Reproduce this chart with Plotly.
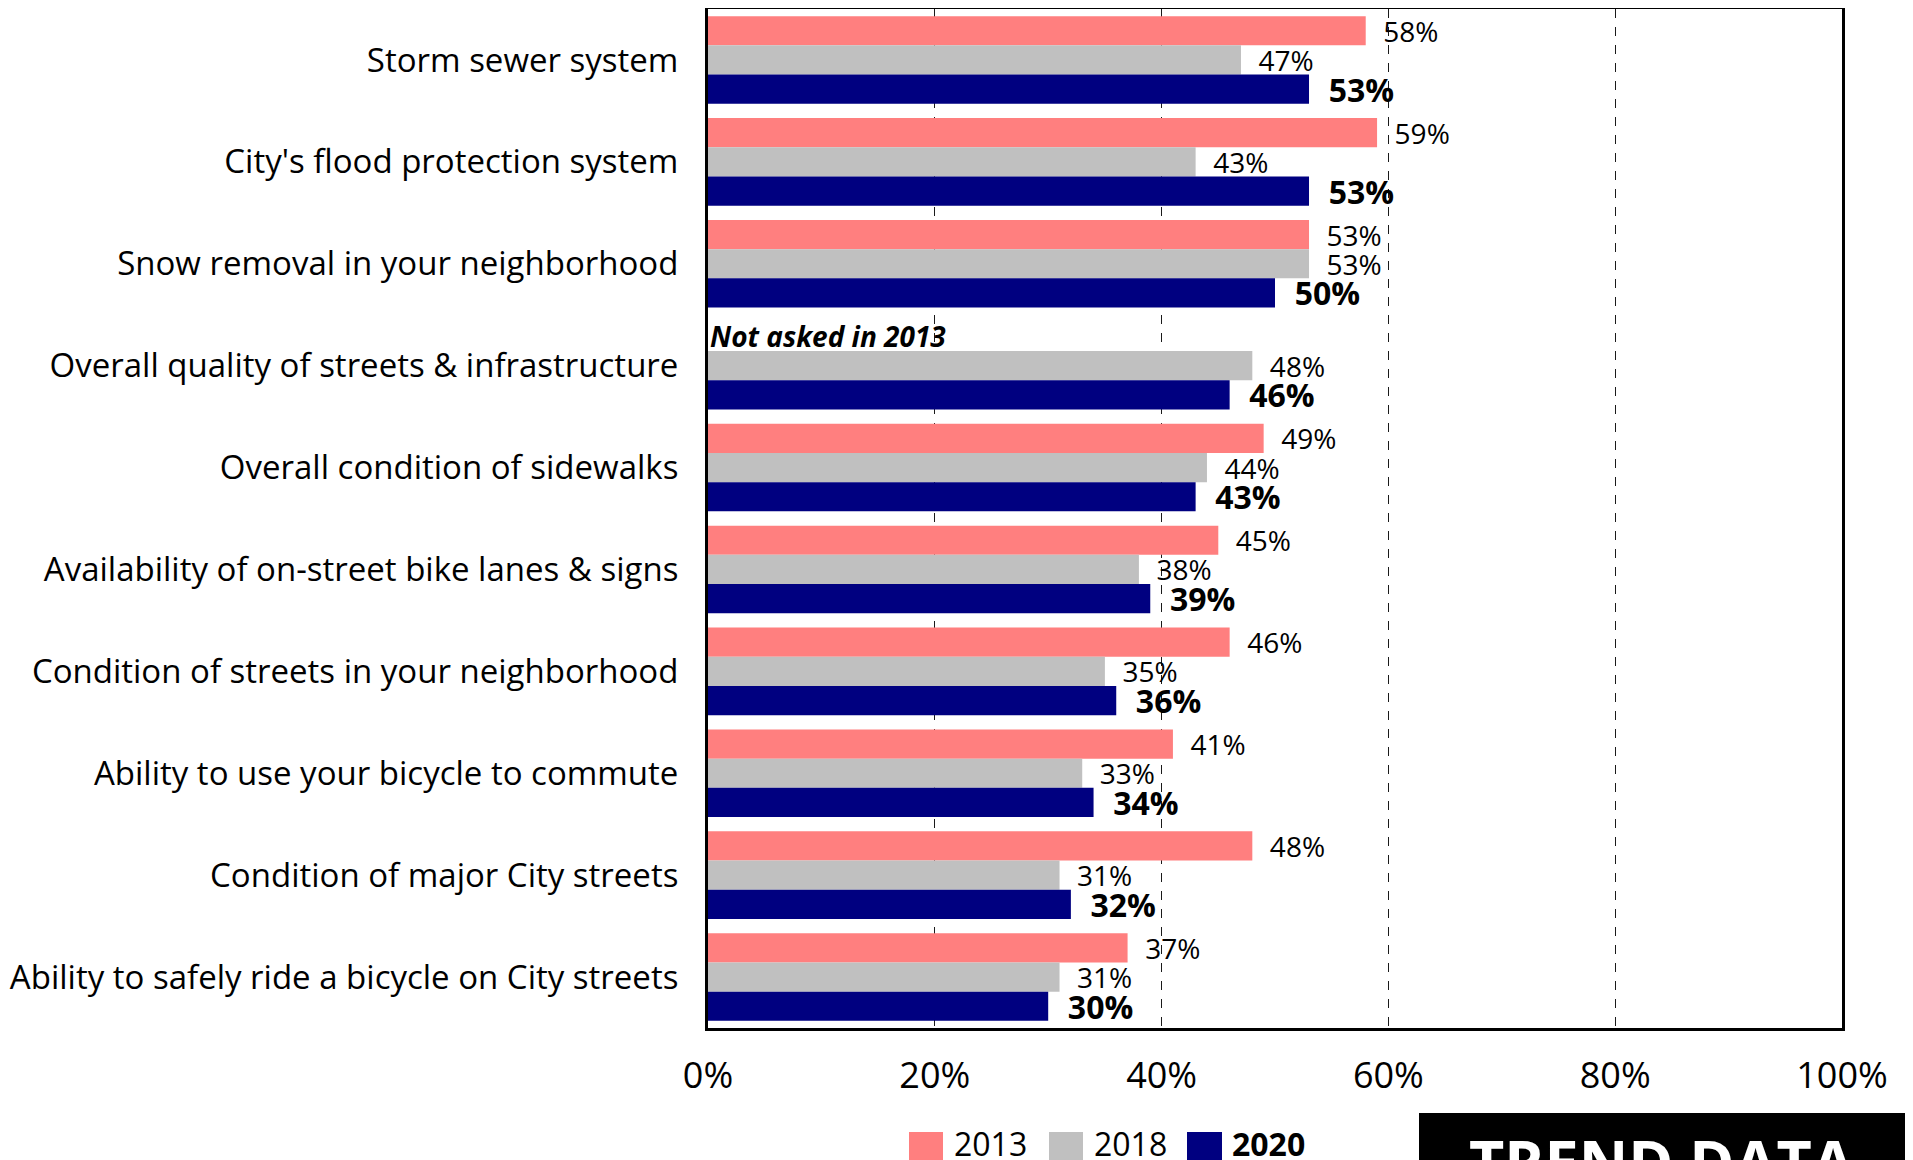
import plotly.graph_objects as go

# Dades del gràfic (de dalt a baix)
categories = [
    "Storm sewer system",
    "City's flood protection system",
    "Snow removal in your neighborhood",
    "Overall quality of streets & infrastructure",
    "Overall condition of sidewalks",
    "Availability of on-street bike lanes & signs",
    "Condition of streets in your neighborhood",
    "Ability to use your bicycle to commute",
    "Condition of major City streets",
    "Ability to safely ride a bicycle on City streets",
]
vals_2013 = [58, 59, 53, None, 49, 45, 46, 41, 48, 37]
vals_2018 = [47, 43, 53, 48, 44, 38, 35, 33, 31, 31]
vals_2020 = [53, 53, 50, 46, 43, 39, 36, 34, 32, 30]
years = ["2013", "2018", "2020"]
colors = ["#FF7F7F", "#C0C0C0", "#000080"]
x_ticks = [0, 20, 40, 60, 80, 100]

FONT = "Open Sans"

fig = go.Figure()

series = [vals_2013, vals_2018, vals_2020]
for i, (yr, vals, col) in enumerate(zip(years, series, colors)):
    bold = (yr == "2020")
    labels = []
    for v in vals:
        if v is None:
            labels.append("")
        elif bold:
            labels.append("&nbsp;&nbsp;<b>%d%%</b>" % v)
        else:
            labels.append("&nbsp;&nbsp;%d%%" % v)
    fig.add_trace(go.Bar(
        y=categories,
        x=vals,
        orientation="h",
        name=yr,
        marker=dict(color=col, line=dict(width=0)),
        text=labels,
        textposition="outside",
        constraintext="none",
        cliponaxis=False,
        textfont=dict(family=FONT, size=32 if bold else 28, color="black"),
        hoverinfo="skip",
    ))

# Geometria (la pàgina té 8px de marge al body)
OFF = 8
W, H = 1905, 1152
L, R, T, B = 700, 71, 1, 132
pw = W - L - R
ph = H - T - B


def px(x):
    return (x - OFF - L) / pw


def py(y):
    return (H - B - (y - OFF)) / ph


shapes = []
annotations = []

# Nota "Not asked"
annotations.append(dict(
    x=0, y=categories[3], xref="x", yref="y", xanchor="left", yanchor="middle",
    xshift=0, yshift=30, showarrow=False,
    text="<b><i>Not asked in 2013</i></b>",
    font=dict(family=FONT, size=28, color="black"),
))

# Llegenda manual
leg_sq = [(909, 943), (1049, 1083), (1187, 1222)]
leg_tx = [952, 1092, 1230]
for (a, b), tx, yr, col in zip(leg_sq, leg_tx, years, colors):
    shapes.append(dict(type="rect", xref="paper", yref="paper",
                       x0=px(a), x1=px(b), y0=py(1132), y1=py(1170),
                       fillcolor=col, line=dict(width=0), layer="above"))
    annotations.append(dict(
        x=px(tx), y=py(1120), xref="paper", yref="paper",
        xanchor="left", yanchor="top", showarrow=False,
        text=("<b>%s</b>" % yr) if yr == "2020" else yr,
        font=dict(family=FONT, size=32, color="black"),
    ))

# Caixa "TREND DATA"
shapes.append(dict(type="rect", xref="paper", yref="paper",
                   x0=px(1419), x1=px(1930), y0=py(1113), y1=py(1180),
                   fillcolor="black", line=dict(width=0), layer="above"))
annotations.append(dict(
    x=px(1662), y=py(1118), xref="paper", yref="paper",
    xanchor="center", yanchor="top", showarrow=False,
    text="<b>TREND DATA</b>",
    font=dict(family=FONT, size=61, color="white"),
))

fig.update_layout(
    width=W, height=H,
    margin=dict(l=L, r=R, t=T, b=B, pad=0, autoexpand=False),
    paper_bgcolor="white",
    plot_bgcolor="white",
    barmode="group",
    bargap=0.14,
    bargroupgap=0,
    showlegend=False,
    font=dict(family=FONT, color="black"),
    shapes=shapes,
    annotations=annotations,
    xaxis=dict(
        range=[0, 100],
        tickvals=x_ticks,
        ticktext=["%d%%" % t for t in x_ticks],
        tickfont=dict(family=FONT, size=36, color="black"),
        showgrid=True, gridcolor="#1a1a1a", gridwidth=1, griddash="dash",
        showline=True, linecolor="black", linewidth=3, mirror=True,
        ticks="", ticklabelstandoff=14,
        zeroline=False, fixedrange=True, automargin=False,
    ),
    yaxis=dict(
        autorange="reversed",
        tickfont=dict(family=FONT, size=33, color="black"),
        showgrid=False,
        showline=True, linecolor="black", linewidth=3, mirror=True,
        ticks="", ticklabelstandoff=20,
        fixedrange=True, automargin=False,
    ),
)

fig.write_html("out.html")
